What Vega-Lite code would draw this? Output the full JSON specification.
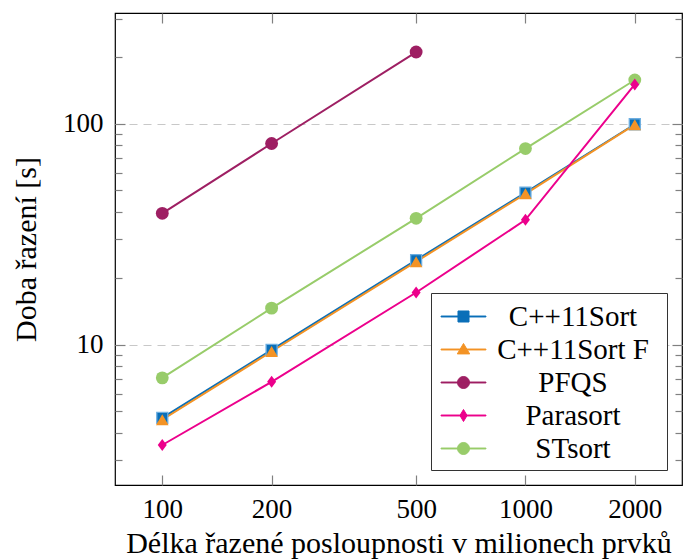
{
  "$schema": "https://vega.github.io/schema/vega-lite/v6.json",
  "width": 567,
  "height": 472,
  "autosize": {"type": "none"},
  "padding": {"left": 115, "top": 13, "right": 5, "bottom": 74},
  "background": "white",
  "config": {
    "view": {"stroke": "black", "strokeWidth": 1.2},
    "font": "Liberation Serif",
    "legend": {"symbolOpacity": 1},
    "axis": {
      "domain": false,
      "grid": false,
      "labelFont": "Liberation Serif",
      "labelFontSize": 27,
      "labelColor": "black",
      "titleFont": "Liberation Serif",
      "titleFontSize": 30,
      "titleFontWeight": "normal",
      "titleColor": "black",
      "tickColor": "#808080",
      "tickWidth": 1.2
    }
  },
  "data": {
    "values": [
      {"n": 100, "t": 4.67, "s": "C++11Sort"},
      {"n": 200, "t": 9.49, "s": "C++11Sort"},
      {"n": 500, "t": 24.2, "s": "C++11Sort"},
      {"n": 1000, "t": 48.9, "s": "C++11Sort"},
      {"n": 2000, "t": 99.7, "s": "C++11Sort"},
      {"n": 100, "t": 4.58, "s": "C++11Sort F"},
      {"n": 200, "t": 9.33, "s": "C++11Sort F"},
      {"n": 500, "t": 23.8, "s": "C++11Sort F"},
      {"n": 1000, "t": 48.3, "s": "C++11Sort F"},
      {"n": 2000, "t": 99.3, "s": "C++11Sort F"},
      {"n": 100, "t": 39.4, "s": "PFQS"},
      {"n": 200, "t": 81.6, "s": "PFQS"},
      {"n": 500, "t": 211.7, "s": "PFQS"},
      {"n": 100, "t": 3.52, "s": "Parasort"},
      {"n": 200, "t": 6.8, "s": "Parasort"},
      {"n": 500, "t": 17.26, "s": "Parasort"},
      {"n": 1000, "t": 36.8, "s": "Parasort"},
      {"n": 2000, "t": 151, "s": "Parasort"},
      {"n": 100, "t": 7.09, "s": "STsort"},
      {"n": 200, "t": 14.66, "s": "STsort"},
      {"n": 500, "t": 37.4, "s": "STsort"},
      {"n": 1000, "t": 77.4, "s": "STsort"},
      {"n": 2000, "t": 158.2, "s": "STsort"}
    ]
  },
  "layer": [
    {
      "mark": {"type": "point", "filled": true, "opacity": 0},
      "encoding": {
        "x": {"field": "n", "type": "quantitative", "scale": {"type": "log", "domain": [74.1, 2698], "nice": false}, "axis": null},
        "y": {"field": "t", "type": "quantitative", "scale": {"type": "log", "domain": [2.32, 318], "nice": false}, "axis": null},
        "color": {
          "field": "s", "type": "nominal",
          "scale": {"domain": ["C++11Sort", "C++11Sort F", "PFQS", "Parasort", "STsort"], "range": ["#0a6fb8", "#f39325", "#9e1f63", "#ec008c", "#98cc6a"]},
          "legend": {
            "title": " ", "titleOrient": "right", "titlePadding": 12, "titleFontSize": 1,
            "orient": "bottom-right", "offset": 15, "padding": 6, "rowPadding": 0,
            "labelFont": "Liberation Serif", "labelFontSize": 29, "labelColor": "black",
            "labelAlign": "center", "labelOffset": 92, "labelLimit": 400,
            "symbolOffset": 9,
            "strokeColor": "#333333", "fillColor": "white",
            "symbolSize": 1156, "symbolStrokeWidth": 1, "symbolOpacity": 1
          }
        },
        "shape": {
          "field": "s", "type": "nominal",
          "scale": {
            "domain": ["C++11Sort", "C++11Sort F", "PFQS", "Parasort", "STsort"],
            "range": [
              "M-1.32,-0.027H1.32V0.027H-1.32ZM-0.324,-0.324H0.324V0.324H-0.324Z",
              "M-1.32,-0.027H1.32V0.027H-1.32ZM0,-0.353L0.365,0.26L-0.365,0.26Z",
              "M-1.32,-0.027H1.32V0.027H-1.32ZM-0.353,0A0.353,0.353,0,1,1,0.353,0A0.353,0.353,0,1,1,-0.353,0Z",
              "M-1.32,-0.027H1.32V0.027H-1.32ZM0,-0.353L0.212,0L0,0.353L-0.212,0Z",
              "M-1.32,-0.027H1.32V0.027H-1.32ZM-0.353,0A0.353,0.353,0,1,1,0.353,0A0.353,0.353,0,1,1,-0.353,0Z"
            ]
          },
          "legend": {
            "title": " ", "titleOrient": "right", "titlePadding": 12, "titleFontSize": 1,
            "orient": "bottom-right", "offset": 15, "padding": 6, "rowPadding": 0,
            "labelFont": "Liberation Serif", "labelFontSize": 29, "labelColor": "black",
            "labelAlign": "center", "labelOffset": 92, "labelLimit": 400,
            "symbolOffset": 9,
            "strokeColor": "#333333", "fillColor": "white",
            "symbolSize": 1156, "symbolStrokeWidth": 1, "symbolOpacity": 1
          }
        }
      }
    },
    {
      "mark": {"type": "line", "strokeWidth": 2},
      "encoding": {
        "x": {
          "field": "n", "type": "quantitative",
          "axis": {"orient": "bottom", "values": [100, 200, 500, 1000, 2000], "format": "d", "tickSize": -10, "labelPadding": 21, "labelFlush": false, "title": "Délka řazené posloupnosti v milionech prvků", "titlePadding": 6}
        },
        "y": {
          "field": "t", "type": "quantitative",
          "axis": {"orient": "left", "values": [10, 100], "format": "d", "tickSize": -10, "labelPadding": 22, "labelFlush": false, "grid": true, "gridDash": [8, 6], "gridColor": "#c8c8c8", "gridWidth": 1.2, "title": "Doba řazení [s]", "titlePadding": 21}
        },
        "color": {"field": "s", "type": "nominal"}
      }
    },
    {
      "transform": [{"filter": "datum.s === 'C++11Sort'"}],
      "mark": {"type": "point", "filled": true, "opacity": 1, "shape": "square", "size": 121, "stroke": "#6daee0", "strokeWidth": 1.3},
      "encoding": {
        "x": {"field": "n", "type": "quantitative", "axis": {"orient": "top", "values": [100, 200, 500, 1000, 2000], "tickSize": -10, "labels": false, "title": null}},
        "y": {"field": "t", "type": "quantitative", "axis": {"orient": "right", "values": [10, 100], "tickSize": -10, "labels": false, "title": null}},
        "color": {"field": "s", "type": "nominal"}
      }
    },
    {
      "transform": [{"filter": "datum.s === 'C++11Sort F'"}],
      "mark": {"type": "point", "filled": true, "opacity": 1, "shape": "triangle-up", "size": 160},
      "encoding": {
        "x": {"field": "n", "type": "quantitative", "axis": null},
        "y": {"field": "t", "type": "quantitative", "axis": null},
        "color": {"field": "s", "type": "nominal"}
      }
    },
    {
      "transform": [{"filter": "datum.s === 'PFQS' || datum.s === 'STsort'"}],
      "mark": {"type": "point", "filled": true, "opacity": 1, "shape": "circle", "size": 165},
      "encoding": {
        "x": {"field": "n", "type": "quantitative", "axis": null},
        "y": {"field": "t", "type": "quantitative", "axis": null},
        "color": {"field": "s", "type": "nominal"}
      }
    },
    {
      "transform": [{"filter": "datum.s === 'Parasort'"}],
      "mark": {"type": "point", "filled": true, "opacity": 1, "shape": "M0,-1L0.75,0L0,1L-0.75,0Z", "size": 144},
      "encoding": {
        "x": {"field": "n", "type": "quantitative", "axis": null},
        "y": {"field": "t", "type": "quantitative", "axis": null},
        "color": {"field": "s", "type": "nominal"}
      }
    },
    {
      "mark": {"type": "point", "opacity": 0},
      "encoding": {
        "x": {"field": "n", "type": "quantitative", "axis": null},
        "y": {"field": "t", "type": "quantitative", "axis": {"orient": "left", "values": [3, 4, 5, 6, 7, 8, 9, 20, 30, 40, 50, 60, 70, 80, 90, 200, 300], "tickSize": -7, "labels": false, "title": null}}
      }
    },
    {
      "mark": {"type": "point", "opacity": 0},
      "encoding": {
        "x": {"field": "n", "type": "quantitative", "axis": null},
        "y": {"field": "t", "type": "quantitative", "axis": {"orient": "right", "values": [3, 4, 5, 6, 7, 8, 9, 20, 30, 40, 50, 60, 70, 80, 90, 200, 300], "tickSize": -7, "labels": false, "title": null}}
      }
    }
  ],
  "resolve": {"axis": {"x": "independent", "y": "independent"}}
}
